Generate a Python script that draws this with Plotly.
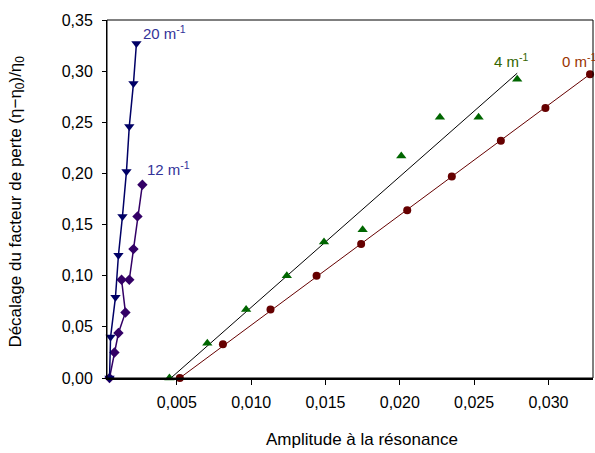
import plotly.graph_objects as go

# 20 m^-1 series
x20 = [0.00047, 0.00054, 0.00087, 0.00107, 0.00134, 0.00161, 0.00180, 0.00208, 0.00228]
y20 = [0.000, 0.040, 0.079, 0.120, 0.158, 0.202, 0.246, 0.288, 0.327]
# 12 m^-1 series
x12 = [0.00047, 0.00080, 0.00107, 0.00154, 0.00128, 0.00180, 0.00208, 0.00235, 0.00268]
y12 = [0.000, 0.025, 0.044, 0.064, 0.096, 0.096, 0.126, 0.158, 0.189]
# 4 m^-1 series
x4 = [0.0045, 0.00705, 0.00966, 0.0124, 0.0149, 0.0175, 0.0201, 0.0227, 0.0253, 0.0279]
y4 = [0.000, 0.034, 0.067, 0.100, 0.133, 0.145, 0.217, 0.255, 0.255, 0.292]
fit4_x = [0.0046, 0.0279]
fit4_y = [0.000, 0.298]
# 0 m^-1 series
x0 = [0.0052, 0.0081, 0.0113, 0.0144, 0.0174, 0.0205, 0.0235, 0.0268, 0.0298, 0.0328]
y0 = [0.000, 0.033, 0.067, 0.100, 0.131, 0.164, 0.197, 0.232, 0.264, 0.297]
fit0_x = [0.0052, 0.0328]
fit0_y = [0.000, 0.297]

labels = ["20 m<sup>-1</sup>", "12 m<sup>-1</sup>", "4 m<sup>-1</sup>", "0 m<sup>-1</sup>"]
x_title = "Amplitude à la résonance"
y_title = "Décalage du facteur de perte (η−η<sub>0</sub>)/η<sub>0</sub>"

NAVY = "#000066"
PURPLE = "#330066"
GREEN = "#006600"
RED = "#660000"
FONT = "Liberation Sans, Arial, sans-serif"

fig = go.Figure()
fig.add_trace(go.Scatter(x=fit4_x, y=fit4_y, mode="lines",
                         line=dict(color="black", width=1), cliponaxis=False))
fig.add_trace(go.Scatter(x=fit0_x, y=fit0_y, mode="lines",
                         line=dict(color=RED, width=1), cliponaxis=False))
fig.add_trace(go.Scatter(x=x4, y=y4, mode="markers",
                         marker=dict(symbol="triangle-up", size=9, color=GREEN),
                         cliponaxis=False))
fig.add_trace(go.Scatter(x=x0, y=y0, mode="markers",
                         marker=dict(symbol="circle", size=8, color=RED),
                         cliponaxis=False))
fig.add_trace(go.Scatter(x=x12, y=y12, mode="lines+markers",
                         line=dict(color=PURPLE, width=1.5),
                         marker=dict(symbol="diamond", size=8, color=PURPLE),
                         cliponaxis=False))
fig.add_trace(go.Scatter(x=x20, y=y20, mode="lines+markers",
                         line=dict(color=NAVY, width=1.5),
                         marker=dict(symbol="triangle-down", size=9, color=NAVY),
                         cliponaxis=False))

ann = [
    (0.00262, 0.338, labels[0], "#333399"),
    (0.00285, 0.205, labels[1], "#333399"),
    (0.02620, 0.310, labels[2], "#336600"),
    (0.03080, 0.310, labels[3], "#993300"),
]
for ax_, ay_, t, c in ann:
    fig.add_annotation(x=ax_, y=ay_, text=t, showarrow=False, xanchor="left",
                       yanchor="middle", font=dict(size=15, color=c, family=FONT))

# axis titles
fig.add_annotation(xref="paper", yref="paper", x=0.525, y=-0.173, text=x_title,
                   showarrow=False, xanchor="center", yanchor="middle",
                   font=dict(size=17, color="black", family=FONT))
fig.add_annotation(xref="paper", yref="paper", x=-0.187, y=0.493, text=y_title,
                   textangle=-90, showarrow=False, xanchor="center", yanchor="middle",
                   font=dict(size=17, color="black", family=FONT))

fig.add_shape(type="rect", xref="paper", yref="paper", x0=0, x1=1, y0=0, y1=1,
              line=dict(color="black", width=1))

fig.update_layout(
    width=595, height=453,
    margin=dict(l=107, r=2, t=20, b=75, autoexpand=False),
    plot_bgcolor="white", paper_bgcolor="white",
    showlegend=False,
    separators=", ",
    font=dict(family=FONT, size=16, color="black"),
    xaxis=dict(range=[0.0003, 0.033], tick0=0, dtick=0.005, tickformat=".3f",
               showgrid=False, zeroline=False, showline=True, linewidth=2,
               linecolor="black", ticks="outside", ticklen=5, tickcolor="black",
               ticklabelstandoff=4, automargin=False),
    yaxis=dict(range=[0, 0.35], dtick=0.05, tickformat=".2f",
               showgrid=False, zeroline=False, showline=True, linewidth=1,
               linecolor="black", ticks="outside", ticklen=4, tickcolor="black",
               ticklabelstandoff=6, automargin=False),
)

fig.write_html("out.html", config={"displayModeBar": False},
               post_script="document.body.style.margin='0';document.body.style.overflow='hidden';")
